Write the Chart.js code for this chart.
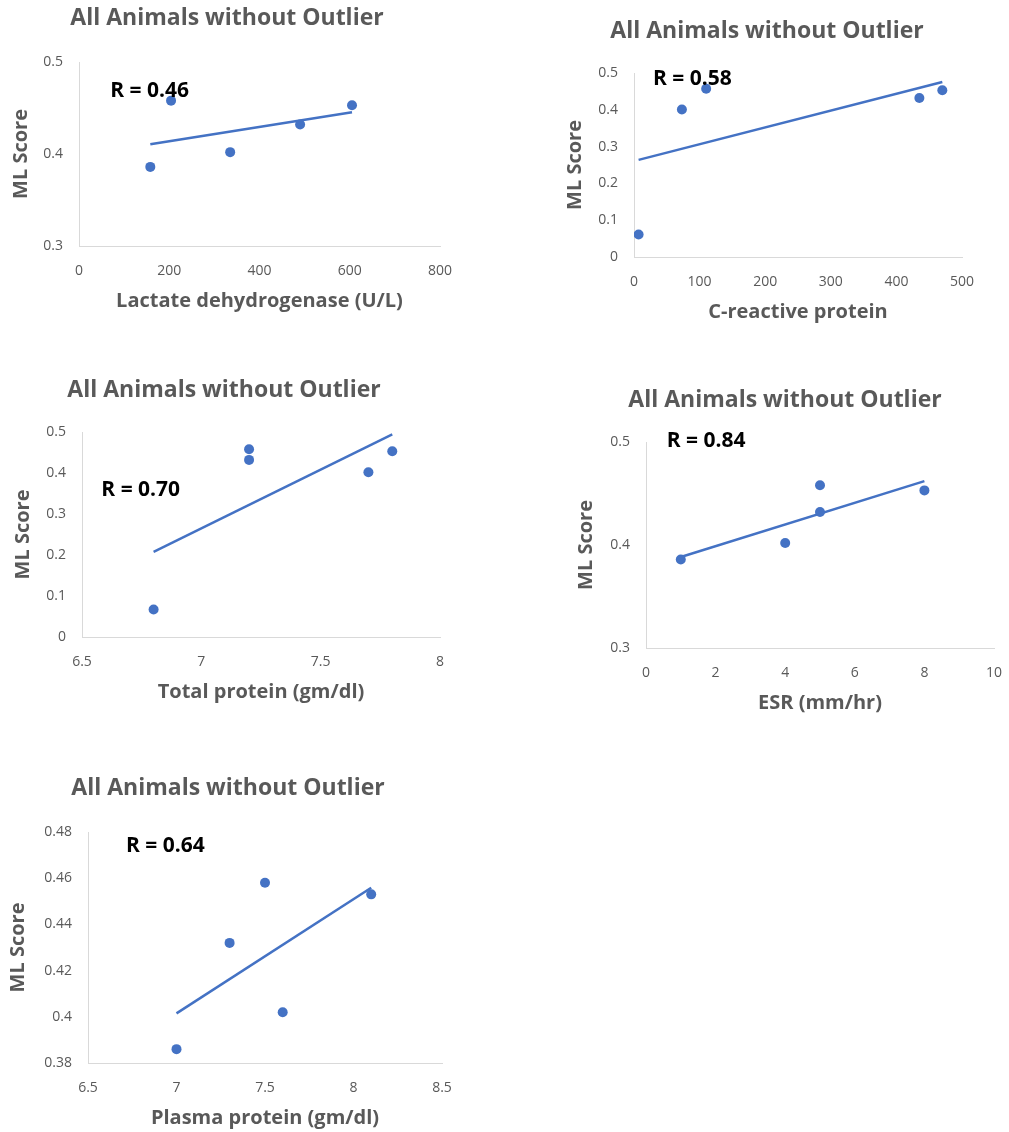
<!DOCTYPE html>
<html>
<head>
<meta charset="utf-8">
<script src="https://cdn.jsdelivr.net/npm/chart.js@4.4.0/dist/chart.umd.min.js"></script>
<style>
  html, body { margin: 0; padding: 0; background: #fff; overflow: hidden; }
  body { width: 1009px; height: 1132px; position: relative; }
  canvas { position: absolute; }
</style>
</head>
<body>
<canvas id="ldhChart"></canvas>
<canvas id="crpChart"></canvas>
<canvas id="tpChart"></canvas>
<canvas id="esrChart"></canvas>
<canvas id="ppChart"></canvas>
<script>
const chartTitle = 'All Animals without Outlier';
const yAxisTitle = 'ML Score';

// Lactate dehydrogenase
const ldhX = [158, 204, 335, 490, 605];
const ldhY = [0.386, 0.458, 0.402, 0.432, 0.453];
const ldhTicksX = [0, 800, 200];
const ldhTicksY = [0.3, 0.5, 0.1];

// C-reactive protein
const crpX = [7, 73, 110, 435, 470];
const crpY = [0.061, 0.401, 0.457, 0.432, 0.453];
const crpTicksX = [0, 500, 100];
const crpTicksY = [0, 0.5, 0.1];

// Total protein
const tpX = [6.8, 7.2, 7.2, 7.7, 7.8];
const tpY = [0.067, 0.458, 0.432, 0.402, 0.453];
const tpTicksX = [6.5, 8, 0.5];
const tpTicksY = [0, 0.5, 0.1];

// ESR
const esrX = [1, 4, 5, 5, 8];
const esrY = [0.386, 0.402, 0.458, 0.432, 0.453];
const esrTicksX = [0, 10, 2];
const esrTicksY = [0.3, 0.5, 0.1];

// Plasma protein
const ppX = [7.0, 7.3, 7.5, 7.6, 8.1];
const ppY = [0.386, 0.432, 0.458, 0.402, 0.453];
const ppTicksX = [6.5, 8.5, 0.5];
const ppTicksY = [0.38, 0.48, 0.02];

const charts = [
  { id: 'ldhChart', xs: ldhX, ys: ldhY, tx: ldhTicksX, ty: ldhTicksY, xTitle: 'Lactate dehydrogenase (U/L)', r: 'R = 0.46', rAt: [69, 0.469] },
  { id: 'crpChart', xs: crpX, ys: crpY, tx: crpTicksX, ty: crpTicksY, xTitle: 'C-reactive protein', r: 'R = 0.58', rAt: [29, 0.485] },
  { id: 'tpChart', xs: tpX, ys: tpY, tx: tpTicksX, ty: tpTicksY, xTitle: 'Total protein (gm/dl)', r: 'R = 0.70', rAt: [6.581, 0.359] },
  { id: 'esrChart', xs: esrX, ys: esrY, tx: esrTicksX, ty: esrTicksY, xTitle: 'ESR (mm/hr)', r: 'R = 0.84', rAt: [0.594, 0.501] },
  { id: 'ppChart', xs: ppX, ys: ppY, tx: ppTicksX, ty: ppTicksY, xTitle: 'Plasma protein (gm/dl)', r: 'R = 0.64', rAt: [6.715, 0.474] },
];

// page placement: plot box [left, top, right, bottom], title centre, y-title x
const layouts = [
  { plot: [79, 62, 440, 246], title: [227, 19], yTitleX: 21 },
  { plot: [634, 73, 962, 257], title: [767, 32], yTitleX: 575 },
  { plot: [82, 432, 440, 637], title: [224, 391], yTitleX: 23 },
  { plot: [646, 442, 994, 648], title: [785, 401], yTitleX: 586 },
  { plot: [88, 832, 442, 1063], title: [228, 789], yTitleX: 18 },
];

const blue = '#4472C4';
const grey = '#595959';
const font = '"Open Sans", "DejaVu Sans", sans-serif';
const titleSize = 23;
const axisSize = 20;
const xAxisH = 72;

// least squares trendline from min x to max x
function trend(xs, ys) {
  const n = xs.length;
  const mx = xs.reduce((a, b) => a + b, 0) / n;
  const my = ys.reduce((a, b) => a + b, 0) / n;
  let sxy = 0, sxx = 0;
  xs.forEach((x, i) => { sxy += (x - mx) * (ys[i] - my); sxx += (x - mx) * (x - mx); });
  const b = sxy / sxx;
  const x0 = Math.min(...xs), x1 = Math.max(...xs);
  return [{ x: x0, y: my + b * (x0 - mx) }, { x: x1, y: my + b * (x1 - mx) }];
}

const rLabel = {
  id: 'rLabel',
  afterDatasetsDraw(chart, args, opts) {
    const { ctx, scales: { x, y } } = chart;
    ctx.save();
    ctx.font = 'bold 21px ' + font;
    ctx.fillStyle = '#000';
    ctx.textAlign = 'left';
    ctx.textBaseline = 'middle';
    ctx.fillText(opts.text, x.getPixelForValue(opts.at[0]), y.getPixelForValue(opts.at[1]));
    ctx.restore();
  }
};

const fmt = (v) => String(Math.round(v * 1000) / 1000);

charts.forEach((c, i) => {
  const lay = layouts[i];
  const [L, T, R, B] = lay.plot;
  const top = Math.round(lay.title[1] - 0.6 * titleSize);
  const yScaleLeft = 2 * lay.title[0] - R;
  const left = Math.floor(Math.min(yScaleLeft, lay.yTitleX - 16));
  const padLeft = yScaleLeft - left;
  const padRight = 20;
  const yAxisW = L - yScaleLeft;

  const canvas = document.getElementById(c.id);
  canvas.width = R + padRight - left;
  canvas.height = B - top + xAxisH;
  canvas.style.left = left + 'px';
  canvas.style.top = top + 'px';

  const points = c.xs.map((x, k) => ({ x: x, y: c.ys[k] }));

  new Chart(canvas.getContext('2d'), {
    type: 'scatter',
    data: {
      datasets: [{
        data: points,
        backgroundColor: blue,
        borderWidth: 0,
        pointRadius: 5,
        pointHoverRadius: 5,
      }, {
        data: trend(c.xs, c.ys),
        showLine: true,
        borderColor: blue,
        borderWidth: 2.5,
        pointRadius: 0,
      }],
    },
    options: {
      responsive: false,
      animation: false,
      layout: { padding: { left: padLeft, right: padRight, top: 0, bottom: 0 } },
      plugins: {
        legend: { display: false },
        tooltip: { enabled: false },
        title: {
          display: true,
          text: chartTitle,
          color: grey,
          font: { family: font, size: titleSize, weight: 'bold' },
          padding: { top: 0, bottom: T - top - 1.2 * titleSize },
        },
        rLabel: { text: c.r, at: c.rAt },
      },
      scales: {
        x: {
          type: 'linear',
          min: c.tx[0],
          max: c.tx[1],
          grid: { display: false, drawTicks: false },
          border: { display: true, color: '#d9d9d9', width: 1 },
          ticks: {
            stepSize: c.tx[2],
            autoSkip: false,
            maxRotation: 0,
            padding: 16.6,
            color: grey,
            font: { family: font, size: 14 },
            callback: fmt,
          },
          title: {
            display: true,
            text: c.xTitle,
            color: grey,
            font: { family: font, size: axisSize, weight: 'bold' },
            padding: { top: 0, bottom: xAxisH - 55.5 - 0.6 * axisSize },
          },
          afterFit(scale) {
            scale.height = xAxisH;
            scale.paddingLeft = 0;
            scale.paddingRight = 0;
          },
        },
        y: {
          type: 'linear',
          min: c.ty[0],
          max: c.ty[1],
          grid: { display: false, drawTicks: false },
          border: { display: true, color: '#d9d9d9', width: 1 },
          ticks: {
            stepSize: c.ty[2],
            autoSkip: false,
            padding: 16,
            color: grey,
            font: { family: font, size: 14 },
            callback: fmt,
          },
          title: {
            display: true,
            text: yAxisTitle,
            color: grey,
            font: { family: font, size: axisSize, weight: 'bold' },
            padding: { top: lay.yTitleX - yScaleLeft - 0.6 * axisSize, bottom: 0 },
          },
          afterFit(scale) {
            scale.width = yAxisW;
            scale.paddingTop = 0;
            scale.paddingBottom = 0;
          },
        },
      },
    },
    plugins: [rLabel],
  });
});
</script>
</body>
</html>
